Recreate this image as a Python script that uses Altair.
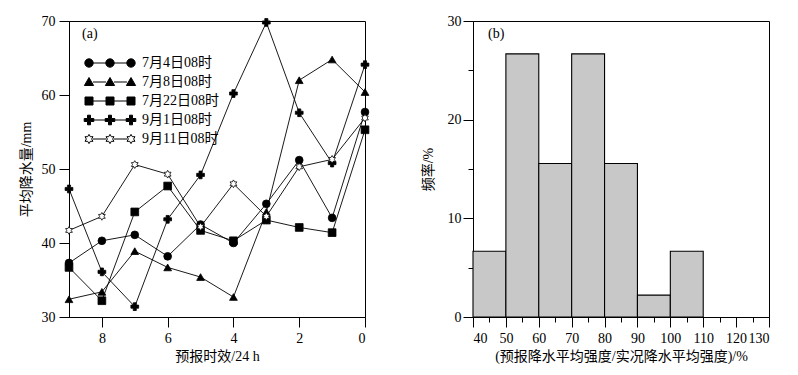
import altair as alt
import pandas as pd

# ---------------- data ----------------
lead_days = [9, 8, 7, 6, 5, 4, 3, 2, 1, 0]
series_names = ["7月4日08时", "7月8日08时", "7月22日08时", "9月1日08时", "9月11日08时"]
rain_jul04 = [37.3, 40.3, 41.1, 38.2, 42.5, 40.0, 45.3, 51.2, 43.4, 57.7]
rain_jul08 = [32.4, 33.4, 38.9, 36.7, 35.4, 32.7, 44.2, 62.0, 64.8, 60.4]
rain_jul22 = [36.7, 32.2, 44.2, 47.7, 41.7, 40.3, 43.1, 42.1, 41.4, 55.3]
rain_sep01 = [47.3, 36.1, 31.4, 43.2, 49.2, 60.2, 69.8, 57.6, 50.8, 64.1]
rain_sep11 = [41.7, 43.6, 50.6, 49.3, 42.2, 48.0, 43.6, 50.3, 51.3, 56.9]

bin_start = [40, 50, 60, 70, 80, 90, 100]
bin_end = [50, 60, 70, 80, 90, 100, 110]
freq_pct = [6.67, 26.67, 15.56, 26.67, 15.56, 2.22, 6.67]

all_series = [rain_jul04, rain_jul08, rain_jul22, rain_sep01, rain_sep11]
rows = []
for name, vals in zip(series_names, all_series):
    for d, v in zip(lead_days, vals):
        rows.append({"lead": d, "rain": v, "series": name})
df_a = pd.DataFrame(rows)
df_b = pd.DataFrame({"start": bin_start, "end": bin_end, "freq": freq_pct})

# ---------------- styles ----------------
NUM_FONT = "Liberation Serif"
TXT_FONT = "Liberation Serif, Noto Sans CJK SC"
FS = 14

# unit hexagram outline (outer radius 1)
HEX = ("M0,-1L0.289,-0.5L0.866,-0.5L0.577,0L0.866,0.5L0.289,0.5L0,1"
       "L-0.289,0.5L-0.866,0.5L-0.577,0L-0.866,-0.5L-0.289,-0.5Z")
marker_shapes = ["circle", "triangle-up", "square", "cross", HEX]
marker_fills = ["black", "black", "black", "black", "white"]


def fmt(v):
    return ("%.2f" % v).rstrip("0").rstrip(".")


def marker_path(kind, cx):
    if kind == "circle":
        r = 4.2
        return "M%s,0A%s,%s 0 1,1 %s,0A%s,%s 0 1,1 %s,0Z" % (
            fmt(cx + r), r, r, fmt(cx - r), r, r, fmt(cx + r))
    if kind == "tri":
        return "M%s,-4.5L%s,3.5L%s,3.5Z" % (fmt(cx), fmt(cx + 4.6), fmt(cx - 4.6))
    if kind == "square":
        h = 4
        return "M%s,%sL%s,%sL%s,%sL%s,%sZ" % (
            fmt(cx - h), -h, fmt(cx + h), -h, fmt(cx + h), h, fmt(cx - h), h)
    if kind == "plus":
        a, t = 4.8, 1.5
        pts = [(-t, -a), (t, -a), (t, -t), (a, -t), (a, t), (t, t), (t, a),
               (-t, a), (-t, t), (-a, t), (-a, -t), (-t, -t)]
        return "M" + "L".join("%s,%s" % (fmt(cx + px), fmt(py)) for px, py in pts) + "Z"
    # hexagram
    s = 4.6
    pts = [(0, -1), (0.289, -0.5), (0.866, -0.5), (0.577, 0), (0.866, 0.5), (0.289, 0.5),
           (0, 1), (-0.289, 0.5), (-0.866, 0.5), (-0.577, 0), (-0.866, -0.5), (-0.289, -0.5)]
    return "M" + "L".join("%s,%s" % (fmt(cx + px * s), fmt(py * s)) for px, py in pts) + "Z"


def legend_symbol(kind):
    centers = [-21, 0, 21]
    gap = 4
    parts = [marker_path(kind, c) for c in centers]
    parts.append("M%s,0L%s,0" % (centers[0] + gap, centers[1] - gap))
    parts.append("M%s,0L%s,0" % (centers[1] + gap, centers[2] - gap))
    return "".join(parts)


legend_kinds = ["circle", "tri", "square", "plus", "hex"]
shape_expr = "[" + ",".join("'%s'" % legend_symbol(k) for k in legend_kinds) + "][datum.index]"

W, H = 296, 296

# ---------------- panel (a) ----------------
x_a = alt.X(
    "lead:Q",
    scale=alt.Scale(domain=[0, 9], reverse=True, nice=False, zero=False),
    axis=alt.Axis(
        values=list(range(10)),
        labelExpr="datum.value % 2 === 0 ? datum.label : ''",
        tickSize={"condition": {"test": "datum.value % 2 === 0", "value": 10}, "value": 5},
        title="预报时效/24 h",
        labelPadding=4,
        titlePadding=4,
    ),
)
y_a = alt.Y(
    "rain:Q",
    scale=alt.Scale(domain=[30, 70], nice=False, zero=False),
    axis=alt.Axis(
        values=list(range(30, 71, 5)),
        labelExpr="datum.value % 10 === 0 ? datum.label : ''",
        tickSize={"condition": {"test": "datum.value % 10 === 0", "value": 10}, "value": 5},
        title="平均降水量/mm",
        labelPadding=4,
        titlePadding=8,
    ),
)

legend_a = alt.Legend(
    orient="none",
    legendX=34,
    legendY=35,
    title=None,
    symbolType={"expr": shape_expr},
    symbolSize=4,
    symbolStrokeWidth=1,
    symbolStrokeColor="black",
    labelOffset=25,
    rowPadding=5,
    padding=0,
    labelFont=TXT_FONT,
    labelFontSize=FS,
    labelColor="black",
    labelLimit=300,
)

# the shape scale lists the series in reverse order so that its (hidden) legend
# is not merged with the fill legend
rev_names = series_names[::-1]
rev_shapes = marker_shapes[::-1]

lines_a = alt.Chart(df_a).mark_line(strokeWidth=0.9, color="black").encode(
    x=x_a,
    y=y_a,
    detail="series:N",
)
points_a = alt.Chart(df_a).mark_point(filled=True, size=60, stroke="black", strokeWidth=0.8,
                                      opacity=1).encode(
    x="lead:Q",
    y="rain:Q",
    shape=alt.Shape("series:N", scale=alt.Scale(domain=rev_names, range=rev_shapes),
                    legend=None),
    fill=alt.Fill("series:N", scale=alt.Scale(domain=series_names, range=marker_fills),
                  legend=legend_a),
)

panel_a = alt.layer(lines_a, points_a).properties(
    width=W, height=H,
    title=alt.TitleParams("(a)", anchor="start", frame="group", orient="top", offset=-27, dx=13,
                          font=NUM_FONT, fontSize=FS, fontWeight="normal", color="black"),
)

# ---------------- panel (b) ----------------
bars_b = alt.Chart(df_b).mark_rect(fill="#c8c8c8", stroke="black", strokeWidth=1.1).encode(
    x=alt.X(
        "start:Q",
        scale=alt.Scale(domain=[40, 130], nice=False, zero=False),
        axis=alt.Axis(
            values=list(range(40, 131, 5)),
            labelExpr="datum.value % 10 === 0 ? datum.label : ''",
            tickSize={"condition": {"test": "datum.value % 10 === 0", "value": 10}, "value": 5},
            title="(预报降水平均强度/实况降水平均强度)/%",
            labelPadding=4,
            titlePadding=4,
        ),
    ),
    x2="end:Q",
    y=alt.Y(
        "freq:Q",
        scale=alt.Scale(domain=[0, 30], nice=False),
        axis=alt.Axis(
            values=list(range(0, 31, 5)),
            labelExpr="datum.value % 10 === 0 ? datum.label : ''",
            tickSize={"condition": {"test": "datum.value % 10 === 0", "value": 10}, "value": 5},
            title="频率/%",
            labelPadding=2,
            titlePadding=12,
        ),
    ),
    y2=alt.datum(0),
)

panel_b = bars_b.properties(
    width=W, height=H,
    title=alt.TitleParams("(b)", anchor="start", frame="group", orient="top", offset=-27, dx=15,
                          font=NUM_FONT, fontSize=FS, fontWeight="normal", color="black"),
)

chart = alt.hconcat(panel_a, panel_b, spacing=49).properties(
    padding={"left": 10, "top": 5, "right": 5, "bottom": 5},
    background="white",
).configure_view(
    stroke="black", strokeWidth=1
).configure_axis(
    grid=False,
    domainColor="black",
    domainWidth=1,
    tickColor="black",
    tickWidth=1,
    labelColor="black",
    labelFont=NUM_FONT,
    labelFontSize=FS,
    titleColor="black",
    titleFont=TXT_FONT,
    titleFontSize=FS,
    titleFontWeight="normal",
)

chart.save("out.html", embed_options={"renderer": "svg", "actions": False})
